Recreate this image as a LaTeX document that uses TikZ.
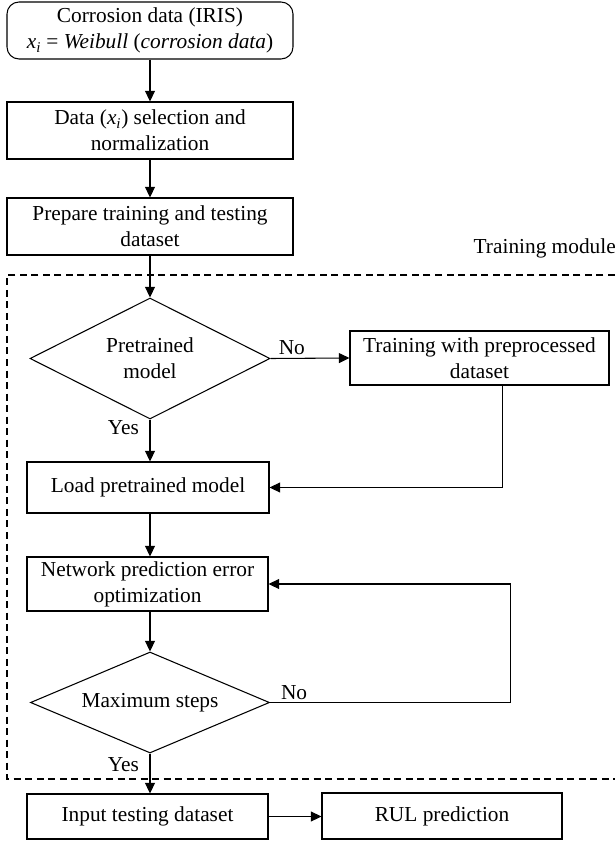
\documentclass[tikz,border=0pt]{standalone}
\usepackage{fontspec}
\setmainfont{Liberation Serif}
\usetikzlibrary{shapes.geometric,arrows.meta}

\newcommand{\xsub}{{\itshape x}\textsubscript{\itshape i}}

\tikzset{
  txt/.style={font=\fontsize{16}{19.5}\selectfont},
  block/.style={txt, draw, line width=0.8pt, align=center, inner sep=2pt},
  decision/.style={txt, draw, diamond, line width=0.8pt, align=center, inner sep=0pt},
  arr/.style={line width=0.8pt, -{Triangle[length=8pt,width=7.5pt]}},
  lbl/.style={txt, inner sep=2pt},
  modframe/.style={line width=0.8pt, dash pattern=on 5.25pt off 3.4pt},
}

\begin{document}
\begin{tikzpicture}[x=0.75pt,y=0.75pt,yscale=-1,xscale=1]
\useasboundingbox (0,0) rectangle (615,841);

%Shape: Dashed frame of the training module
\draw[modframe] (615,275) -| (7,779) -- (615,779);
% Text Node
\node[lbl, anchor=east, inner sep=0pt] (modlabel) at (616,248) {Training module};

% Blocks
\node[block, rounded corners=9pt, minimum width=214.5pt, minimum height=42.75pt] (irisdata) at (150,30.5)
  {Corrosion data (IRIS)\\ \xsub{} = \textit{Weibull} (\textit{corrosion data})};
\node[block, minimum width=214.5pt, minimum height=42.75pt] (datasel) at (150,130.5)
  {Data (\xsub) selection and\\normalization};
\node[block, minimum width=214.5pt, minimum height=42.75pt] (prepdata) at (150,226.5)
  {Prepare training and testing\\dataset};
\node[decision, aspect=1.98, minimum width=180pt, minimum height=90.75pt] (pretrained) at (150,358.5)
  {Pretrained\\model};
\node[block, minimum width=194.25pt, minimum height=40.5pt] (trainpre) at (479.5,358)
  {Training with preprocessed\\dataset};
\node[block, minimum width=181.5pt, minimum height=38.25pt] (loadpre) at (148,487.5)
  {Load pretrained model};
\node[block, minimum width=180.75pt, minimum height=40.5pt] (netopt) at (147.5,584)
  {Network prediction error\\optimization};
\node[decision, aspect=2.37, minimum width=179.25pt, minimum height=75.75pt] (maxstep) at (150,702.5)
  {Maximum steps};
\node[block, minimum width=180.75pt, minimum height=33.75pt] (inputtest) at (147.5,816.5)
  {Input testing dataset};
\node[block, minimum width=180pt, minimum height=34.5pt] (rulpred) at (442,816)
  {RUL prediction};

% Connectors
\draw[arr] (irisdata) -- (datasel);
\draw[arr] (datasel) -- (prepdata);
\draw[arr] (prepdata) -- (pretrained);
\draw[arr] (pretrained.east) -- node[lbl, above, pos=0.27] {No} (trainpre.west);
\draw[arr] (pretrained.south) -- node[lbl, left=6pt, pos=0.2] {Yes} (pretrained.south |- loadpre.north);
\draw[arr] ([xshift=16.9pt]trainpre.south) |- (loadpre.east);
\draw[arr] (loadpre.south -| pretrained.south) -- (netopt.north -| pretrained.south);
\draw[arr] (netopt.south -| maxstep.north) -- (maxstep.north);
\draw[arr] (maxstep.east) -- node[lbl, above, pos=0.1] {No} ++(240,0) |- (netopt.east);
\draw[arr] (maxstep.south) -- node[lbl, left=6pt, pos=0.27] {Yes} (maxstep.south |- inputtest.north);
\draw[arr] (inputtest.east) -- (inputtest.east -| rulpred.west);

\end{tikzpicture}
\end{document}
